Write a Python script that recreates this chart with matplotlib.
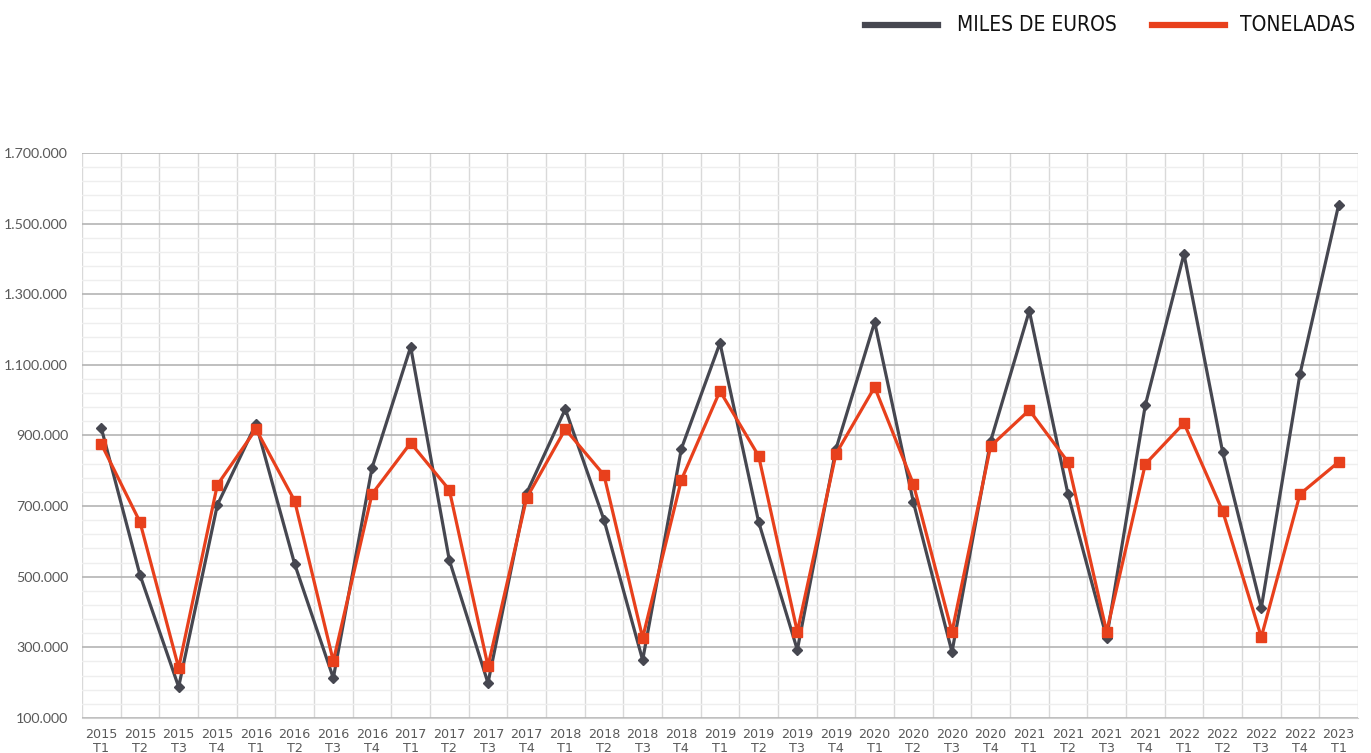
import matplotlib
matplotlib.use("Agg")
import matplotlib.pyplot as plt
from matplotlib.lines import Line2D
from matplotlib.ticker import FixedLocator, FuncFormatter
import matplotlib.font_manager as fm

years = ["2015"] * 4 + ["2016"] * 4 + ["2017"] * 4 + ["2018"] * 4 + ["2019"] * 4 + \
        ["2020"] * 4 + ["2021"] * 4 + ["2022"] * 4 + ["2023"]
quarters = ["T1", "T2", "T3", "T4"] * 8 + ["T1"]
labels = [f"{y}\n{q}" for y, q in zip(years, quarters)]

miles_euros = [921000, 505000, 188000, 703000, 933000, 536000, 213000, 808000,
               1151000, 547000, 199000, 737000, 975000, 661000, 264000, 862000,
               1162000, 655000, 293000, 862000, 1221000, 712000, 287000, 884000,
               1253000, 734000, 327000, 986000, 1414000, 853000, 412000, 1074000,
               1553000]
toneladas = [876000, 655000, 242000, 760000, 918000, 715000, 261000, 734000,
             879000, 746000, 247000, 723000, 918000, 788000, 327000, 774000,
             1026000, 842000, 344000, 848000, 1037000, 763000, 344000, 870000,
             972000, 825000, 344000, 819000, 935000, 686000, 329000, 734000,
             825000]
series_names = ["MILES DE EUROS", "TONELADAS"]
y_ticks = [100000, 300000, 500000, 700000, 900000, 1100000, 1300000, 1500000, 1700000]

DARK = "#464750"
ORANGE = "#e8401c"

fig = plt.figure(figsize=(13.71, 7.53), dpi=100)
ax = fig.add_axes([0.0598, 0.0465, 0.9307, 0.7503])

x = list(range(len(labels)))
ax.plot(x, miles_euros, color=DARK, lw=2.3, marker="D", ms=5.5, zorder=3)
ax.plot(x, toneladas, color=ORANGE, lw=2.3, marker="s", ms=7.5, zorder=4)

ax.set_xlim(-0.5, len(labels) - 0.5)
ax.set_ylim(y_ticks[0], y_ticks[-1])

ax.yaxis.set_major_locator(FixedLocator(y_ticks))
minor_y = [y_ticks[0] + 40000 * k for k in range(1, 40) if k % 5 != 0]
ax.yaxis.set_minor_locator(FixedLocator(minor_y))
ax.yaxis.set_major_formatter(FuncFormatter(lambda v, p: f"{int(v):,}".replace(",", ".")))
ax.set_xticks(x)
ax.set_xticklabels(labels)
ax.xaxis.set_minor_locator(FixedLocator([i + 0.5 for i in range(-1, len(labels))]))

ax.grid(which="major", axis="y", color="#b4b4b4", lw=1.2)
ax.grid(which="minor", axis="y", color="#eeeeee", lw=1)
ax.grid(which="minor", axis="x", color="#d9d9d9", lw=1)
ax.set_axisbelow(True)

for s in ["top", "right", "left"]:
    ax.spines[s].set_visible(False)
ax.spines["bottom"].set_color("#cfcfcf")
ax.tick_params(which="both", length=0)
ax.tick_params(axis="y", labelsize=10.2, labelcolor="#595959", pad=10)
ax.tick_params(axis="x", labelsize=9.2, labelcolor="#595959", pad=7)
for t in ax.get_yticklabels():
    t.set_family(["Lato", "DejaVu Sans"])
for t in ax.get_xticklabels():
    t.set_linespacing(1.15)

# legend font: prefer a condensed face if available
cond = None
for f in fm.fontManager.ttflist:
    nm = f.name.lower()
    fn = f.fname.lower()
    if ("condensed" in nm or "narrow" in nm or "condensed" in fn or "narrow" in fn) \
            and "bold" not in fn and "italic" not in fn and "oblique" not in fn:
        cond = f.fname
        break
if cond:
    lprop = fm.FontProperties(fname=cond, size=15)
else:
    lprop = fm.FontProperties(family="Liberation Sans", size=14)

# legend (manual placement)
ly = 1 - 25 / 753
fig.add_artist(Line2D([865 / 1371, 938 / 1371], [ly, ly], color=DARK, lw=4.5,
                      transform=fig.transFigure))
fig.text(957 / 1371, ly, series_names[0], fontproperties=lprop, va="center",
         ha="left", color="#111111")
fig.add_artist(Line2D([1152 / 1371, 1225 / 1371], [ly, ly], color=ORANGE, lw=4.5,
                      transform=fig.transFigure))
fig.text(1240 / 1371, ly, series_names[1], fontproperties=lprop, va="center",
         ha="left", color="#111111")

fig.savefig("out.png", dpi=100)
